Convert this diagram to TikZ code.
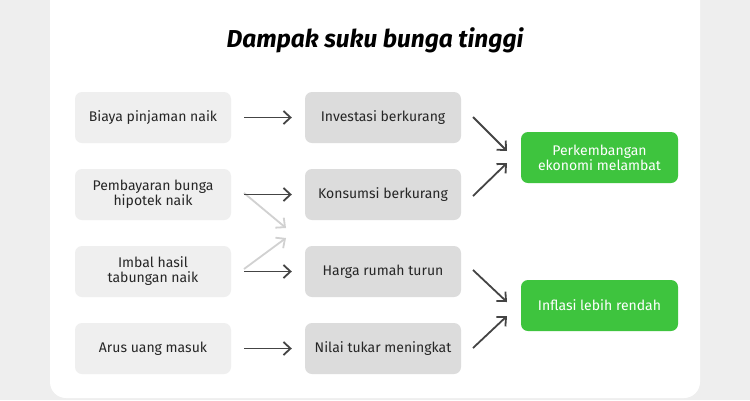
\documentclass[tikz,border=0pt]{standalone}
\usepackage{fontspec}
\setmainfont{Fira Sans}
\usetikzlibrary{arrows.meta}
\definecolor{bgc}{HTML}{EEEEEE}
\definecolor{lbox}{HTML}{EFEFEF}
\definecolor{mbox}{HTML}{DCDCDC}
\definecolor{gbox}{HTML}{3EC43E}
\definecolor{arr}{HTML}{444444}
\begin{document}
\begin{tikzpicture}[x=1pt,y=-1pt,
  box/.style={rounded corners=7pt,minimum width=156pt,minimum height=51pt,align=center,font=\fontsize{14}{15}\selectfont,text=black!85,inner sep=2pt},
  lb/.style={box,fill=lbox},
  mb/.style={box,fill=mbox},
  gb/.style={box,fill=gbox,text=white,minimum width=157pt},
  ar/.style={-{Straight Barb[length=7pt,width=13pt]},draw=arr,line width=1.8pt},
  la/.style={ar,draw=black!18}]
\useasboundingbox (0,0) rectangle (750,400);
\fill[bgc] (0,0) rectangle (750,400);
\fill[white,rounded corners=16pt] (50,-20) rectangle (700,398);
\node[font=\fontsize{24.5}{28}\selectfont\bfseries\itshape] (t) at (375,40) {Dampak suku bunga tinggi};
\node[lb] (a1) at (153,117.5) {Biaya pinjaman naik};
\node[lb] (a2) at (153,194.5) {Pembayaran bunga\\hipotek naik};
\node[lb] (a3) at (153,271.5) {Imbal hasil\\tabungan naik};
\node[lb] (a4) at (153,348.5) {Arus uang masuk};
\node[mb] (b1) at (383,117.5) {Investasi berkurang};
\node[mb] (b2) at (383,194.5) {Konsumsi berkurang};
\node[mb] (b3) at (383,271.5) {Harga rumah turun};
\node[mb] (b4) at (383,348.5) {Nilai tukar meningkat};
\node[gb] (g1) at (599.5,157.5) {Perkembangan\\ekonomi melambat};
\node[gb] (g2) at (599.5,305.5) {Inflasi lebih rendah};
\coordinate (p1) at (244,193); \coordinate (q1) at (286,228);
\coordinate (p2) at (244,269); \coordinate (q2) at (286,238);
\draw[la] (p1) -- (q1);
\draw[la] (p2) -- (q2);
\foreach \i in {1,2,3,4}{\draw[ar] ([xshift=13pt]a\i.east) -- ([xshift=-13pt]b\i.west);}
\coordinate (c1) at (473,117); \coordinate (d1) at (507,151);
\coordinate (c2) at (473,196); \coordinate (d2) at (507,163);
\coordinate (c3) at (473,270); \coordinate (d3) at (507,302);
\coordinate (c4) at (473,348); \coordinate (d4) at (507,316);
\foreach \i in {1,2,3,4}{\draw[ar] (c\i) -- (d\i);}
\end{tikzpicture}
\end{document}
